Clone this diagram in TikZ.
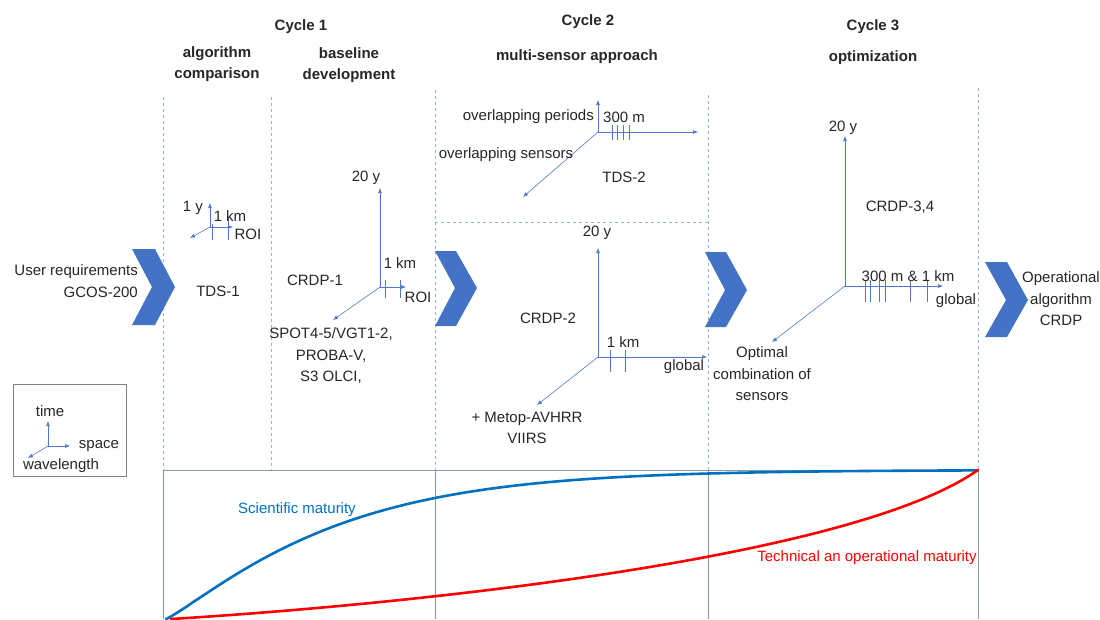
\documentclass[tikz,border=0pt]{standalone}
\usepackage{fontspec}
\setmainfont{Liberation Sans}
\usetikzlibrary{arrows.meta}
\definecolor{chevblue}{RGB}{68,114,196}
\definecolor{axisblue}{RGB}{80,120,200}
\definecolor{dashblue}{RGB}{150,175,220}
\definecolor{boxline}{RGB}{132,151,176}
\definecolor{sciblue}{RGB}{0,112,192}
\definecolor{txt}{RGB}{38,38,38}
\begin{document}
\begin{tikzpicture}[x=1pt,y=-1pt,
  lbl/.style={inner sep=0pt, font=\fontsize{15}{21.5}\selectfont, text=txt, align=center},
  ttl/.style={lbl, font=\fontsize{15}{21}\selectfont\bfseries},
  axisline/.style={draw=axisblue, line width=0.6pt},
  axarrow/.style={axisline, -{Latex[length=5pt,width=4pt]}},
  tick/.style={axisline},
  sep/.style={draw=dashblue, dashed, line width=0.7pt},
  boxl/.style={draw=boxline, line width=0.8pt},
  chev/.style={fill=chevblue},
  curve/.style={line width=2.6pt, line cap=round, line join=round}]
\useasboundingbox (0,0) rectangle (1100,619);

% separators
\draw[sep] (163,97) -- (163,470);
\draw[sep] (271,97) -- (271,470);
\draw[sep] (435,90) -- (435,470);
\draw[sep] (708,95) -- (708,470);
\draw[sep] (978,88) -- (978,470);
\draw[sep] (435,222) -- (708,222);

% maturity box
\draw[boxl] (163,619) -- (163,470) -- (978,470) -- (978,619);
\draw[boxl] (435,470) -- (435,619);
\draw[boxl] (708,470) -- (708,619);

% curves
\draw[curve, sciblue] (166,619) -- plot[domain=167:978, samples=160, smooth] (\x, {470+149*exp(-((\x-166)/172)^1.15)});
\draw[curve, red] (171,619) .. controls (400,605) and (850,560) .. (978,470);
\node[lbl, text=sciblue] (sci) at (297,510) {Scientific maturity};
\node[lbl, text=red] (tech) at (867,558) {Technical an operational maturity};

% titles
\node[ttl] (c1) at (301,27) {Cycle 1};
\node[ttl] (algo) at (217,64) {algorithm\\comparison};
\node[ttl] (base) at (349,65) {baseline\\development};
\node[ttl] (c2) at (588,22) {Cycle 2};
\node[ttl] (msa) at (577,57) {multi-sensor approach};
\node[ttl] (c3) at (873,27) {Cycle 3};
\node[ttl] (opt) at (873,58) {optimization};

% chevrons
\fill[chev] (132,249) -- (155,249) -- (175,287) -- (155,325) -- (132,325) -- (152,287) -- cycle;
\fill[chev] (435,251) -- (456,251) -- (477,288) -- (456,326) -- (435,326) -- (455,288) -- cycle;
\fill[chev] (705,252) -- (726,252) -- (747,290) -- (726,327) -- (705,327) -- (725,290) -- cycle;
\fill[chev] (985,262) -- (1007,262) -- (1028,300) -- (1007,337) -- (985,337) -- (1006,300) -- cycle;

% left texts
\node[lbl, anchor=east, align=right] (user) at (138,281) {User requirements\\GCOS-200};
\node[lbl] (tds1) at (218,291) {TDS-1};

% cycle 1 small axes
\coordinate (o1) at (210,227);
\coordinate (t1) at (210,203);
\coordinate (s1) at (233,227);
\coordinate (w1) at (190,238);
\draw[axarrow] (o1) -- (t1);
\draw[axarrow] (o1) -- (s1);
\draw[axarrow] (o1) -- (w1);
\draw[tick] (212,224) -- (212,240);
\draw[tick] (228,218) -- (228,240);
\node[lbl] (l1y) at (193,208) {1 y};
\node[lbl] (l1km) at (230,216) {1 km};
\node[lbl] (roi1) at (248,234) {ROI};

% baseline axes
\coordinate (o2) at (380,287);
\coordinate (t2) at (380,188);
\coordinate (s2) at (406,287);
\coordinate (w2) at (333,320);
\draw[axarrow] (o2) -- (t2);
\draw[axarrow] (o2) -- (s2);
\draw[axarrow] (o2) -- (w2);
\draw[tick] (385,280) -- (385,298);
\draw[tick] (400,280) -- (400,298);
\node[lbl] (l20a) at (366,178) {20 y};
\node[lbl] (l1kma) at (400,263) {1 km};
\node[lbl] (roi2) at (418,297) {ROI};
\node[lbl] (crdp1) at (315,280) {CRDP-1};
\node[lbl] (spot) at (331,356) {SPOT4-5/VGT1-2,\\PROBA-V,\\S3 OLCI,};

% cycle 2 top axes
\coordinate (o3) at (598,132);
\coordinate (t3) at (598,100);
\coordinate (s3) at (698,132);
\coordinate (w3) at (523,197);
\draw[axarrow] (o3) -- (t3);
\draw[axarrow] (o3) -- (s3);
\draw[axarrow] (o3) -- (w3);
\foreach \xx in {612,617,623,629} \draw[tick] (\xx,125) -- (\xx,140);
\node[lbl, anchor=east] (ovp) at (594,117) {overlapping periods};
\node[lbl] (l300a) at (624,117) {300 m};
\node[lbl] (ovs) at (506,155) {overlapping sensors};
\node[lbl] (tds2) at (624,177) {TDS-2};

% cycle 2 lower axes
\coordinate (o4) at (598,357);
\coordinate (t4) at (598,248);
\coordinate (s4) at (707,357);
\coordinate (w4) at (537,405);
\draw[axarrow] (o4) -- (t4);
\draw[axarrow] (o4) -- (s4);
\draw[axarrow] (o4) -- (w4);
\draw[tick] (610,350) -- (610,372);
\draw[tick] (625,350) -- (625,372);
\node[lbl] (l20b) at (597,233) {20 y};
\node[lbl] (l1kmb) at (623,342) {1 km};
\node[lbl] (glob2) at (684,367) {global};
\node[lbl] (crdp2) at (548,318) {CRDP-2};
\node[lbl] (metop) at (527,428) {+ Metop-AVHRR\\VIIRS};

% cycle 3 axes
\coordinate (o5) at (845,286);
\coordinate (t5) at (845,136);
\coordinate (s5) at (943,286);
\coordinate (w5) at (772,342);
\draw[axarrow] (o5) -- (t5);
\draw[axarrow] (o5) -- (s5);
\draw[axarrow] (o5) -- (w5);
\foreach \xx in {865,870,879,885,910,927} \draw[tick] (\xx,280) -- (\xx,302);
\node[lbl] (l20c) at (843,128) {20 y};
\node[lbl] (crdp34) at (900,207) {CRDP-3,4};
\node[lbl] (l300b) at (908,276) {300 m \& 1 km};
\node[lbl] (glob3) at (956,301) {global};
\node[lbl] (optc) at (762,374) {Optimal\\combination of\\sensors};
\node[lbl] (oper) at (1061,299) {Operational\\algorithm\\CRDP};

% legend
\draw[draw=gray, line width=0.8pt] (13,384) rectangle (126,476);
\coordinate (o6) at (48,446);
\coordinate (t6) at (48,421);
\coordinate (s6) at (70,446);
\coordinate (w6) at (28,458);
\draw[axarrow] (o6) -- (t6);
\draw[axarrow] (o6) -- (s6);
\draw[axarrow] (o6) -- (w6);
\node[lbl] (ltime) at (50,411) {time};
\node[lbl] (lspace) at (99,446) {space};
\node[lbl] (lwave) at (61,466) {wavelength};
\end{tikzpicture}
\end{document}
